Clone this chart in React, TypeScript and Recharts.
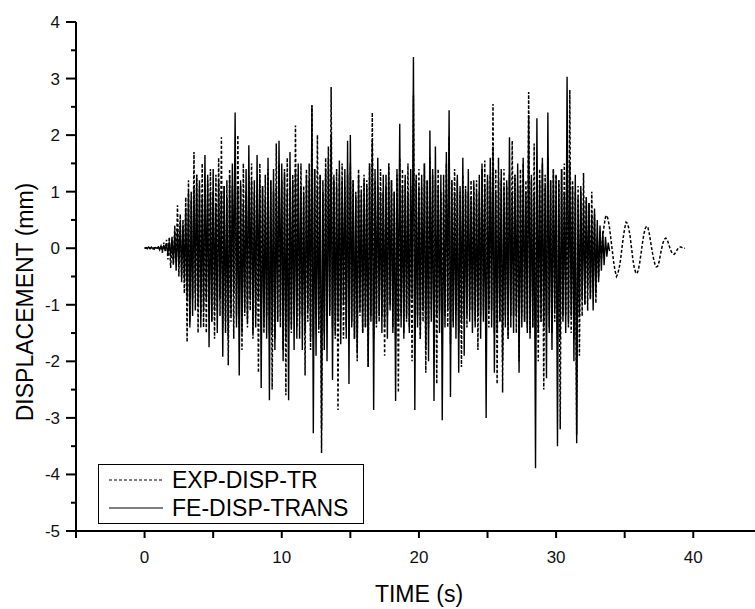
import { LineChart, Line, XAxis, YAxis, Legend, Label } from "recharts";

// sampling step of both records (s)
const DT = 0.1;

// FE-DISP-TRANS, one row per second
const feDisp = [
  0, 0.01, -0.01, 0.02, -0.01, 0.01, 0, -0.02, 0.01, 0,
  0.02, -0.03, 0.04, -0.05, 0.06, -0.04, 0.08, -0.1, 0.12, -0.15,
  0.2, -0.25, 0.3, -0.4, 0.35, -0.3, 0.45, -0.5, 0.4, -0.55,
  0.7, -0.9, 1.0, -1.4, 0.85, -1.2, 1.1, -0.8, 1.3, -1.0,
  1.2, -1.4, 0.9, -1.1, 1.65, -0.9, 1.3, -1.75, 1.0, -1.3,
  1.4, -1.1, 0.8, -1.5, 1.2, -0.9, 1.0, -1.92, 1.1, -1.3,
  0.9, -1.6, 1.3, -1.2, 1.5, -0.8, 2.4, -1.4, 1.1, -2.25,
  1.2, -1.5, 0.8, -1.1, 1.4, -1.3, 1.82, -0.9, 1.2, -1.5,
  1.0, -1.2, 1.65, -0.9, 1.3, -2.47, 1.1, -1.4, 0.9, -1.6,
  1.6, -2.69, 1.2, -1.5, 1.4, -1.8, 1.1, -1.3, 1.9, -1.2,
  1.5, -2.0, 1.3, -1.6, 1.0, -2.69, 1.7, -1.4, 1.2, -1.8,
  1.4, -1.6, 1.5, -1.2, 1.1, -1.8, 0.97, -1.5, 1.3, -1.1,
  1.2, -1.6, 2.53, -3.27, 1.4, -1.9, 1.1, -1.4, 1.3, -3.2,
  1.0, -1.8, 1.4, -2.0, 1.6, -1.2, 2.0, -2.33, 1.3, -1.5,
  1.1, -1.3, 1.55, -1.7, 1.2, -1.0, 1.4, -1.6, 1.9, -2.4,
  2.0, -1.4, 1.2, -1.6, 0.9, -1.86, 1.3, -1.1, 1.0, -1.5,
  1.2, -1.4, 1.1, -2.1, 1.5, -1.2, 1.9, -2.86, 1.4, -1.3,
  1.6, -1.2, 1.0, -1.5, 1.3, -1.4, 1.1, -1.6, 1.5, -1.1,
  1.2, -1.5, 1.0, -2.7, 1.4, -1.3, 2.2, -1.4, 1.1, -1.6,
  1.3, -1.2, 1.0, -1.5, 1.4, -0.9, 3.38, -2.86, 1.2, -1.4,
  1.1, -1.6, 1.3, -1.1, 1.5, -1.8, 1.2, -2.0, 2.08, -1.3,
  1.4, -2.7, 1.8, -1.2, 1.1, -1.5, 1.3, -3.04, 1.0, -1.4,
  1.7, -1.1, 2.44, -2.63, 1.2, -1.4, 1.0, -1.6, 1.3, -2.2,
  1.1, -1.3, 1.6, -1.9, 1.0, -1.2, 1.4, -1.1, 0.9, -1.5,
  1.2, -1.4, 1.0, -1.2, 1.3, -1.6, 1.5, -1.3, 1.1, -3.0,
  1.3, -1.1, 1.6, -1.4, 1.8, -2.2, 1.0, -1.5, 1.2, -1.3,
  1.4, -2.0, 1.1, -1.4, 1.2, -1.6, 1.96, -1.2, 1.0, -1.5,
  1.3, -1.2, 1.5, -2.2, 1.1, -1.4, 1.6, -1.3, 1.0, -1.5,
  2.35, -1.6, 1.2, -1.4, 1.0, -3.89, 2.3, -1.5, 1.2, -1.3,
  1.6, -1.4, 1.1, -2.3, 2.4, -1.5, 1.2, -1.8, 1.4, -1.1,
  1.3, -3.5, 1.2, -1.6, 1.4, -1.2, 1.0, -1.5, 3.03, -1.3,
  1.5, -1.2, 1.1, -2.0, 1.3, -3.45, 0.9, -1.2, 1.1, -0.9,
  0.8, -1.0, 0.9, -0.7, 0.8, -0.9, 0.6, -1.1, 0.7, -0.8,
  0.5, -0.6, 0.4, -0.4, 0.3, -0.3, 0.2, -0.15, 0.1, -0.05,
];

// EXP-DISP-TR, one row per second
const expDisp = [
  0, 0, 0.01, -0.01, 0, 0.02, -0.01, 0.01, 0, -0.01,
  0.02, -0.02, 0.05, -0.08, 0.1, -0.05, 0.15, -0.2, 0.2, -0.35,
  0.1, -0.3, 0.4, -0.2, 0.76, -0.5, 0.6, -0.6, 0.5, -0.8,
  0.9, -1.66, 1.2, -1.3, 1.0, -0.9, 1.7, -1.1, 1.3, -1.5,
  1.1, -1.2, 1.5, -1.4, 0.9, -1.5, 1.2, -1.0, 1.4, -1.3,
  1.0, -1.6, 1.3, -1.1, 1.6, -1.2, 1.96, -1.4, 1.1, -1.5,
  1.2, -2.07, 1.4, -1.3, 1.1, -1.6, 1.5, -1.2, 2.0, -1.4,
  1.1, -1.8, 1.5, -1.2, 1.0, -1.4, 1.3, -1.1, 1.5, -1.6,
  1.2, -1.4, 1.0, -2.2, 1.5, -1.3, 1.1, -1.5, 1.3, -1.2,
  1.4, -1.5, 1.2, -2.5, 1.0, -1.6, 1.85, -1.3, 1.5, -1.4,
  1.2, -1.8, 1.4, -2.6, 1.6, -1.3, 1.1, -1.5, 1.3, -1.2,
  2.17, -1.4, 1.3, -1.6, 1.5, -1.2, 1.1, -2.25, 1.4, -1.3,
  1.5, -1.8, 2.53, -1.6, 1.4, -1.2, 2.0, -1.5, 1.3, -3.62,
  1.2, -1.5, 1.6, -1.3, 1.8, -1.1, 2.85, -1.4, 1.2, -1.6,
  1.4, -2.86, 1.3, -1.2, 1.5, -1.6, 1.1, -1.4, 1.3, -1.2,
  1.5, -1.3, 1.2, -1.6, 1.0, -2.0, 1.4, -1.2, 1.1, -1.5,
  1.3, -1.4, 1.2, -2.1, 1.5, -1.3, 2.4, -1.6, 1.2, -1.4,
  1.1, -1.3, 1.4, -1.2, 1.0, -1.9, 1.3, -1.2, 1.5, -1.0,
  1.2, -1.4, 1.0, -1.6, 1.3, -2.55, 1.6, -1.2, 1.4, -1.5,
  1.2, -1.3, 1.5, -1.4, 1.1, -2.0, 2.7, -1.5, 1.3, -1.2,
  1.4, -1.6, 1.1, -1.3, 1.5, -2.2, 1.2, -1.4, 1.6, -1.1,
  1.3, -1.5, 1.2, -2.4, 1.4, -1.1, 1.0, -1.6, 1.3, -1.2,
  1.5, -1.4, 1.98, -1.7, 1.2, -1.3, 1.4, -1.1, 1.2, -1.5,
  1.0, -2.1, 1.3, -1.2, 1.1, -1.4, 1.0, -1.3, 1.2, -1.1,
  1.1, -1.3, 1.2, -1.8, 1.0, -1.2, 1.4, -1.1, 1.55, -1.3,
  1.2, -1.4, 1.3, -1.1, 2.55, -1.5, 1.4, -2.4, 1.6, -1.3,
  1.2, -2.55, 1.4, -1.2, 1.1, -1.6, 1.3, -1.4, 1.9, -1.2,
  1.3, -1.5, 1.1, -2.0, 1.4, -1.2, 1.5, -1.3, 1.2, -1.4,
  2.76, -1.5, 1.3, -1.4, 1.85, -1.6, 1.2, -2.0, 1.4, -1.3,
  1.5, -2.5, 1.3, -1.2, 1.6, -1.4, 1.2, -1.5, 1.4, -1.3,
  1.3, -1.6, 1.2, -3.2, 1.4, -1.3, 1.5, -1.2, 1.1, -1.4,
  2.8, -1.5, 1.2, -1.6, 1.0, -3.3, 1.1, -1.9, 1.0, -1.2,
  1.33, -1.0, 0.9, -1.1, 0.8, -0.9, 1.0, -0.7, 0.6, -0.97,
  0.2, -0.5, 0.3, -0.2, 0.2, 0.4, 0.55, 0.58, 0.5, 0.35,
  0.15, -0.05, -0.25, -0.4, -0.5, -0.45, -0.35, -0.2, 0.0, 0.2,
  0.35, 0.46, 0.44, 0.35, 0.2, 0.0, -0.2, -0.35, -0.43, -0.45,
  -0.38, -0.25, -0.08, 0.1, 0.25, 0.35, 0.39, 0.36, 0.25, 0.1,
  -0.05, -0.18, -0.28, -0.33, -0.32, -0.25, -0.12, 0.0, 0.1, 0.16,
  0.18, 0.15, 0.08, 0.0, -0.06, -0.1, -0.11, -0.08, -0.04, 0.0,
  0.02, 0.02, 0.01, 0.0, 0.0,
];

const xTicks = [-5, 0, 5, 10, 15, 20, 25, 30, 35, 40];
const xLabelled = [0, 10, 20, 30, 40];
const yTicks = [-5, -4.5, -4, -3.5, -3, -2.5, -2, -1.5, -1, -0.5, 0, 0.5, 1, 1.5, 2, 2.5, 3, 3.5, 4];

const seriesNames = ["EXP-DISP-TR", "FE-DISP-TRANS"];
const seriesDash = ["3 2", undefined];

const FONT = "'Liberation Sans', Arial, sans-serif";

const toPoints = (vals: number[]) =>
  vals.map((v, i) => ({ t: Math.round(i * DT * 100) / 100, v }));

const expData = toPoints(expDisp);
const feData = toPoints(feDisp);

function YTick(props: any) {
  const { x, y, payload } = props;
  const major = Number.isInteger(payload.value);
  return (
    <g>
      <line x1={x - (major ? 10 : 5)} x2={x} y1={y} y2={y} stroke="#000" strokeWidth={2} />
      {major && (
        <text x={x - 16} y={y + 6} textAnchor="end" fontSize={17} fontFamily={FONT} fill="#111">
          {payload.value}
        </text>
      )}
    </g>
  );
}

function XTick(props: any) {
  const { x, y, payload } = props;
  const labelled = xLabelled.includes(payload.value);
  return (
    <g>
      <line x1={x} x2={x} y1={y} y2={y + 7} stroke="#000" strokeWidth={2} />
      {labelled && (
        <text x={x} y={y + 32} textAnchor="middle" fontSize={17} fontFamily={FONT} fill="#111">
          {payload.value}
        </text>
      )}
    </g>
  );
}

function LegendBox() {
  return (
    <div
      style={{
        width: 264,
        height: 57,
        paddingTop: 1,
        boxSizing: "content-box",
        border: "1px solid #000",
        background: "#fff",
        fontFamily: FONT,
        fontSize: 23,
        color: "#000",
      }}
    >
      {seriesNames.map((name, i) => (
        <div key={name} style={{ display: "flex", alignItems: "center", height: 28, paddingLeft: 10 }}>
          <svg width={54} height={4} style={{ marginRight: 9 }}>
            <line x1={0} x2={54} y1={2} y2={2} stroke="#000" strokeWidth={1.2} strokeDasharray={seriesDash[i]} />
          </svg>
          <span style={{ lineHeight: "28px" }}>{name}</span>
        </div>
      ))}
    </div>
  );
}

export default function App() {
  return (
    <div style={{ position: "absolute", left: 0, top: 0, width: 755, height: 609, background: "#fff" }}>
      <LineChart width={755} height={609} margin={{ top: 22, right: 0, bottom: 0, left: 0 }}>
        <XAxis
          type="number"
          dataKey="t"
          domain={[-5, 44.5]}
          allowDataOverflow
          ticks={xTicks}
          interval={0}
          height={78}
          tickSize={0}
          tickMargin={0}
          tickLine={false}
          tick={<XTick />}
          axisLine={{ stroke: "#000", strokeWidth: 2 }}
        >
          <Label
            content={() => (
              <text x={419} y={602} textAnchor="middle" fontSize={23} fontFamily={FONT} fill="#000">
                TIME (s)
              </text>
            )}
          />
        </XAxis>
        <YAxis
          type="number"
          dataKey="v"
          domain={[-5, 4]}
          allowDataOverflow
          ticks={yTicks}
          interval={0}
          width={76}
          tickSize={0}
          tickMargin={0}
          tickLine={false}
          tick={<YTick />}
          axisLine={{ stroke: "#000", strokeWidth: 2 }}
        >
          <Label
            content={() => (
              <text
                x={33}
                y={302}
                transform="rotate(-90, 33, 302)"
                textAnchor="middle"
                fontSize={23}
                fontFamily={FONT}
                fill="#000"
              >
                DISPLACEMENT (mm)
              </text>
            )}
          />
        </YAxis>
        <Legend
          layout="horizontal"
          verticalAlign="middle"
          align="center"
          content={() => <LegendBox />}
          wrapperStyle={{ left: 98, top: 464, width: 266, height: 59 }}
        />
        <Line
          data={expData}
          dataKey="v"
          name={seriesNames[0]}
          type="linear"
          stroke="#000"
          strokeWidth={1.5}
          strokeDasharray="3 2"
          dot={false}
          activeDot={false}
          isAnimationActive={false}
        />
        <Line
          data={feData}
          dataKey="v"
          name={seriesNames[1]}
          type="linear"
          stroke="#000"
          strokeWidth={1.4}
          dot={false}
          activeDot={false}
          isAnimationActive={false}
        />
      </LineChart>
    </div>
  );
}
